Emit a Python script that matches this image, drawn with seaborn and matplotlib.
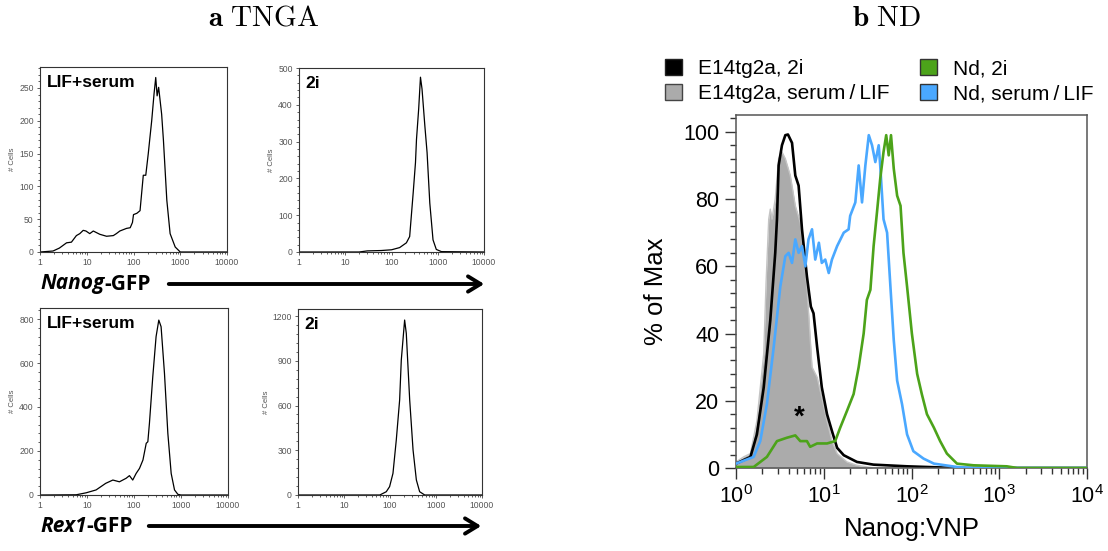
import numpy as np
import pandas as pd
import matplotlib
matplotlib.use("Agg")
import matplotlib.pyplot as plt
import seaborn as sns
from matplotlib.ticker import LogLocator, MultipleLocator, AutoMinorLocator, FixedLocator, NullFormatter
from matplotlib.patches import Patch, FancyArrowPatch

# ---------------- data ----------------
a_xticks = [1, 10, 100, 1000, 10000]
a_xtick_labels = ["1", "10", "100", "1000", "10000"]

nanog_lif_x = [1, 1.9, 2.6, 3.7, 4.7, 6.0, 7.1, 8.4, 9.6, 11.6, 13.8, 19, 26.5, 37, 43, 51, 71, 85,
               95, 100, 118, 138, 162, 183, 207, 225, 245, 275, 299, 320, 345, 400, 437, 516, 607,
               780, 1000, 10000]
nanog_lif_y = [0, 1.5, 6, 14, 15, 25, 28, 33, 32, 28, 32, 27, 24, 25, 28, 32, 36, 37,
               45, 57, 59, 63, 117, 117, 150, 175, 200, 241, 266, 238, 251, 210, 170, 79, 28,
               7.6, 0, 0]

nanog_2i_x = [1, 20, 30, 60, 100, 150, 210, 247, 294, 330, 347, 387, 423, 457, 526, 588, 673, 790,
              930, 1200, 10000]
nanog_2i_y = [0, 0, 3, 4, 6, 12, 25, 42, 160, 243, 306, 389, 475, 443, 343, 270, 133, 33,
              7, 1, 0]

rex1_lif_x = [1, 5.9, 9.6, 15.6, 25, 35.5, 49, 68, 80, 94, 111, 131, 155, 182, 197, 213, 251, 295,
              337, 377, 445, 525, 618, 728, 858, 1000, 10000]
rex1_lif_y = [0, 1, 10, 23, 53, 68, 60, 76, 88, 68, 98, 121, 159, 235, 242, 326, 538, 720,
              795, 765, 553, 280, 98, 23, 3, 0, 0]

rex1_2i_x = [1, 60, 83, 98, 116, 137, 162, 176, 208, 226, 268, 317, 374, 441, 569, 10000]
rex1_2i_y = [0, 0, 22, 56, 145, 369, 637, 905, 1173, 1084, 637, 302, 101, 22, 0, 0]

# panel b
e14_2i_x = [1.0, 1.46, 1.73, 2.07, 2.46, 2.8, 2.93, 3.06, 3.34, 3.65, 3.91, 4.35, 4.74, 5.17, 5.65,
            6.43, 7.13, 7.65, 8.4, 9.5, 10.9, 12.4, 14.2, 16.9, 23.9, 36.9, 89, 330, 10000]
e14_2i_y = [1.3, 3.3, 10, 24, 44, 64, 74, 90, 96, 99, 99.2, 96.7, 87, 84, 71,
            57, 48, 46, 36, 24, 16, 11, 6, 3.8, 1.8, 1, 0.5, 0, 0]

e14_lif_x = [1.0, 1.22, 1.46, 1.73, 2.07, 2.2, 2.36, 2.46, 2.57, 2.8, 3.06, 3.34, 3.65, 4.16, 4.74,
             5.4, 6.43, 7.35, 8.4, 9.5, 10.9, 12.4, 14.2, 18.4, 23.9, 36.9, 10000]
e14_lif_y = [1.8, 3.3, 4.3, 14, 34, 55, 74, 77, 74, 80, 92, 94, 92, 87, 78,
             73, 54, 30, 27, 21, 14, 8, 4.3, 1.8, 0.8, 0, 0]

nd_lif_x = [1.0, 1.59, 1.89, 2.25, 2.69, 3.2, 3.65, 3.98, 4.35, 4.74, 5.17, 5.65, 6.17, 6.7, 7.35,
            8.0, 8.8, 9.5, 10.4, 11.4, 12.4, 14.2, 16.9, 19.2, 20, 22.9, 25, 27.3, 29.8, 32.6,
            35.5, 38.7, 42.3, 44, 48, 52.7, 57.5, 62.8, 68.6, 78, 89, 105, 137, 180, 330, 510, 10000]
nd_lif_y = [1.3, 3.3, 8, 19, 36, 54, 63, 64, 61, 68, 64, 66, 60, 68, 71,
            62, 67, 61, 62, 58, 62, 66, 70, 71, 75, 79, 90, 79, 90, 99,
            96, 91, 96, 90, 74, 70, 54, 38, 26, 19, 10, 5, 2.8, 1.3, 0.3, 0, 0]

nd_2i_x = [1.0, 1.59, 2.25, 2.93, 3.8, 4.74, 5.4, 6.43, 7.0, 8.4, 10.9, 13.5, 15.4, 18.4, 21.9,
           25, 28.5, 31, 34, 37, 40.4, 44, 48, 51.5, 55, 58.4, 62.8, 68.6, 75, 81, 89, 101,
           116, 131, 150, 180, 212, 253, 330, 510, 1220, 1600, 10000]
nd_2i_y = [0.3, 0.3, 3.3, 8, 9, 9.7, 8, 8, 6.3, 7.3, 7.3, 8, 12, 17, 22,
           30, 40, 50, 53, 66, 76, 86, 94, 99, 93, 99, 89, 81, 78, 64, 54, 40,
           28, 22, 16, 12, 8, 4.3, 1.3, 0.8, 0.5, 0, 0]

b_legend_labels = ["E14tg2a, 2i", "E14tg2a, serum\u2009/\u2009LIF", "Nd, 2i", "Nd, serum\u2009/\u2009LIF"]

# ---------------- style ----------------
sns.set_style("ticks")
plt.rcParams["font.family"] = ["Liberation Sans", "DejaVu Sans"]
plt.rcParams["text.color"] = "black"
plt.rcParams["axes.labelcolor"] = "black"
plt.rcParams["mathtext.fontset"] = "custom"
plt.rcParams["mathtext.rm"] = "Liberation Sans"
plt.rcParams["mathtext.it"] = "Liberation Sans:italic"
plt.rcParams["mathtext.bf"] = "Liberation Sans:bold"

W, H = 1108, 551
fig = plt.figure(figsize=(W / 100, H / 100), dpi=100)


def rect(l, r, t, b):
    return [l / W, 1 - b / H, (r - l) / W, (b - t) / H]


def setup_a(ax, ytop, ymajor, label):
    ax.set_xscale("log")
    ax.set_xlim(1, 10000)
    ax.set_ylim(0, ytop)
    ax.xaxis.set_major_locator(FixedLocator(a_xticks))
    ax.set_xticklabels(a_xtick_labels)
    ax.xaxis.set_minor_locator(LogLocator(base=10, subs=np.arange(2, 10)))
    ax.xaxis.set_minor_formatter(NullFormatter())
    ax.yaxis.set_major_locator(MultipleLocator(ymajor))
    ax.yaxis.set_minor_locator(AutoMinorLocator(5))
    ax.tick_params(which="both", direction="out", labelsize=6.2, labelcolor="#555555",
                   color="#444444", width=0.6, pad=2)
    ax.tick_params(which="major", length=2.5)
    ax.tick_params(which="minor", length=1.5)
    ax.set_ylabel("# Cells", fontsize=5.5, color="#555555", labelpad=2)
    ax.set_xlabel("")
    for s in ax.spines.values():
        s.set_visible(True)
        s.set_linewidth(0.8)
        s.set_color("#333333")
    ax.text(0.035, 0.955, label, transform=ax.transAxes, fontweight="bold", fontsize=12.5,
            va="top", ha="left", color="black")


panels = [
    (rect(40, 227, 67, 252), nanog_lif_x, nanog_lif_y, 282, 50, "LIF+serum"),
    (rect(299, 484, 68, 252), nanog_2i_x, nanog_2i_y, 500, 100, "2i"),
    (rect(40, 228, 308, 495), rex1_lif_x, rex1_lif_y, 850, 200, "LIF+serum"),
    (rect(298, 482, 309, 495), rex1_2i_x, rex1_2i_y, 1247, 300, "2i"),
]
for r, xs, ys, ytop, ymaj, lab in panels:
    ax = fig.add_axes(r)
    df = pd.DataFrame({"x": xs, "y": ys})
    sns.lineplot(data=df, x="x", y="y", ax=ax, color="black", lw=0.9, estimator=None, sort=False)
    setup_a(ax, ytop, ymaj, lab)


# arrows and channel labels
def channel_label(x_px, y_px, italic_part, rest, arrow_from, arrow_to):
    t1 = fig.text(x_px / W, 1 - y_px / H, italic_part, fontsize=15, fontweight="bold",
                  style="italic", family=["Open Sans", "DejaVu Sans"], va="center", ha="left")
    fig.canvas.draw()
    bb = t1.get_window_extent()
    fig.text(bb.x1 / W, 1 - y_px / H, rest, fontsize=15, fontweight="bold",
             family=["Open Sans", "DejaVu Sans"], va="center", ha="left")
    fig.add_artist(FancyArrowPatch(
        (arrow_from / W, 1 - y_px / H), (arrow_to / W, 1 - y_px / H),
        transform=fig.transFigure, arrowstyle="->,head_length=9,head_width=5.5",
        lw=2.8, color="black", mutation_scale=1))


channel_label(40, 284, "Nanog", "-GFP", 166, 487)
channel_label(40, 526, "Rex1", "-GFP", 146, 484)

# titles
fig.text(264 / W, 1 - 18 / H, r"$\mathbf{a}\ \mathrm{TNGA}$", math_fontfamily="cm", fontsize=21,
         ha="center", va="center")
fig.text(887 / W, 1 - 18 / H, r"$\mathbf{b}\ \mathrm{ND}$", math_fontfamily="cm", fontsize=21,
         ha="center", va="center")

# ---------------- panel b ----------------
axb = fig.add_axes(rect(736, 1087, 115, 468))
gray_fill = "#ababab"
green = "#4ca31a"
blue = "#4aa8ff"
axb.fill_between(e14_lif_x, e14_lif_y, 0, color=gray_fill, lw=0, zorder=1)
sns.lineplot(x=e14_lif_x, y=e14_lif_y, ax=axb, color="#c4c4c4", lw=1.0, estimator=None, sort=False, zorder=1.5)
sns.lineplot(x=e14_2i_x, y=e14_2i_y, ax=axb, color="black", lw=1.9, estimator=None, sort=False, zorder=2)
sns.lineplot(x=nd_lif_x, y=nd_lif_y, ax=axb, color=blue, lw=1.9, estimator=None, sort=False, zorder=3)
sns.lineplot(x=nd_2i_x, y=nd_2i_y, ax=axb, color=green, lw=1.9, estimator=None, sort=False, zorder=4)
axb.set_xscale("log")
axb.set_xlim(1, 10000)
axb.set_ylim(0, 105)
axb.xaxis.set_major_locator(LogLocator(base=10, numticks=10))
axb.xaxis.set_minor_locator(LogLocator(base=10, subs=np.arange(2, 10), numticks=50))
axb.xaxis.set_minor_formatter(NullFormatter())
axb.yaxis.set_major_locator(MultipleLocator(20))
axb.yaxis.set_minor_locator(MultipleLocator(4))
axb.tick_params(which="both", direction="out", labelsize=15.5, color="#333333", width=1.0,
                labelcolor="black")
axb.tick_params(which="major", length=8, pad=4)
axb.tick_params(which="minor", length=4)
for s in axb.spines.values():
    s.set_visible(True)
    s.set_linewidth(1.1)
    s.set_color("#555555")
axb.set_ylabel("% of Max", fontsize=18.5)
axb.yaxis.set_label_coords(-0.195, 0.5)
axb.set_xlabel("Nanog:VNP", fontsize=18.5, labelpad=7)
axb.text(5.2, 15, "*", fontsize=20, fontweight="bold", ha="center", va="center", color="black")

handles = [Patch(facecolor="black", edgecolor="#222222"),
           Patch(facecolor=gray_fill, edgecolor="#444444"),
           Patch(facecolor=green, edgecolor="#333333"),
           Patch(facecolor=blue, edgecolor="#333333")]
fig.legend(handles, b_legend_labels, ncol=2, loc="upper left",
           bbox_to_anchor=(665 / W, 1 - 59 / H), frameon=False, fontsize=15,
           handlelength=0.8, handleheight=0.8, handletextpad=0.8, columnspacing=1.45,
           labelspacing=0.27, borderaxespad=0, borderpad=0)

fig.savefig("out.png", dpi=100)
